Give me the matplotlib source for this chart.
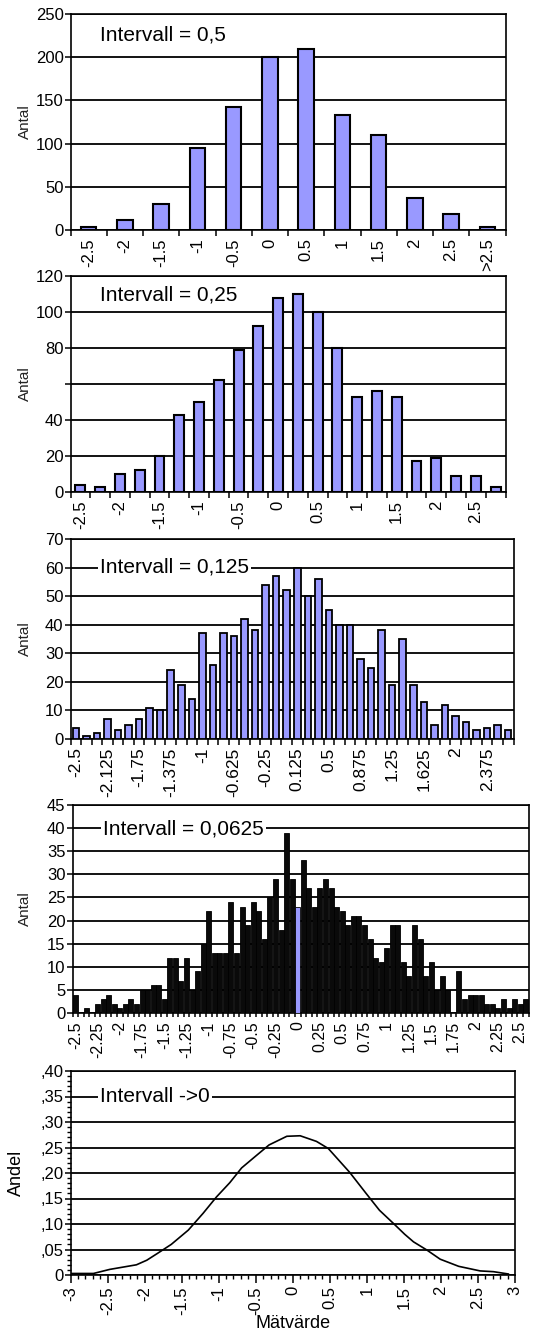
import numpy as np
import matplotlib
matplotlib.use('Agg')
import matplotlib.pyplot as plt
from matplotlib.ticker import FixedLocator, FixedFormatter, MultipleLocator

plt.rcParams['font.family'] = ['Liberation Sans', 'DejaVu Sans']

# ---------------- data ----------------
p1_labels = ['-2.5', '-2', '-1.5', '-1', '-0.5', '0', '0.5', '1', '1.5', '2', '2.5', '>2.5']
p1_counts = [3, 12, 30, 95, 142, 200, 210, 133, 110, 37, 18, 3]
p1_yticks = [0, 50, 100, 150, 200, 250]
p1_yticklabels = ['0', '50', '100', '150', '200', '250']

p2_labels = ['-2.5', '-2', '-1.5', '-1', '-0.5', '0', '0.5', '1', '1.5', '2', '2.5']  # every 2nd category
p2_counts = [4, 3, 10, 12, 20, 43, 50, 62, 79, 92, 108, 110, 100, 80, 53, 56, 53, 17, 19, 9, 9, 3]
p2_yticks = [0, 20, 40, 60, 80, 100, 120]
p2_yticklabels = ['0', '20', '40', '', '80', '100', '120']

p3_labels = ['-2.5', '-2.125', '-1.75', '-1.375', '-1', '-0.625', '-0.25', '0.125',
             '0.5', '0.875', '1.25', '1.625', '2', '2.375']  # every 3rd category
p3_counts = [4, 1, 2, 7, 3, 5, 7, 11, 10, 24, 19, 14, 37, 26, 37, 36, 42, 38, 54, 57,
             52, 60, 50, 56, 45, 40, 40, 28, 25, 38, 19, 35, 19, 13, 5, 12, 8, 6, 3, 4, 5, 3]
p3_yticks = [0, 10, 20, 30, 40, 50, 60, 70]

p4_labels = ['-2.5', '-2.25', '-2', '-1.75', '-1.5', '-1.25', '-1', '-0.75', '-0.5', '-0.25', '0',
             '0.25', '0.5', '0.75', '1', '1.25', '1.5', '1.75', '2', '2.25', '2.5']  # every 4th
p4_counts = [4, 0, 1, 0, 2, 3, 4, 2, 1, 2, 3, 2, 5, 5, 6, 6, 3, 12, 12, 7,
             12, 5, 9, 15, 22, 13, 13, 13, 24, 13, 23, 19, 24, 22, 16, 25, 29, 18, 39, 29,
             23, 33, 27, 23, 27, 29, 27, 23, 22, 19, 21, 21, 19, 16, 12, 11, 14, 19, 19, 11,
             8, 19, 16, 8, 11, 5, 8, 5, 0, 9, 3, 4, 4, 4, 2, 2, 1, 3, 1, 3,
             2, 3]
p4_zero_index = 40
p4_yticks = [0, 5, 10, 15, 20, 25, 30, 35, 40, 45]

p5_x = [-3.0, -2.69, -2.47, -2.11, -1.97, -1.83, -1.64, -1.41, -1.21, -1.03, -0.85, -0.69,
        -0.51, -0.32, -0.08, 0.10, 0.32, 0.48, 0.77, 0.99, 1.17, 1.36, 1.51, 1.63, 1.81,
        1.99, 2.24, 2.53, 2.71, 2.91]
p5_y = [0.003, 0.003, 0.011, 0.020, 0.029, 0.042, 0.060, 0.088, 0.121, 0.153, 0.181, 0.210,
        0.232, 0.255, 0.272, 0.273, 0.262, 0.248, 0.201, 0.160, 0.127, 0.101, 0.080, 0.065,
        0.049, 0.031, 0.017, 0.008, 0.0065, 0.002]
p5_yticks = [0, 0.05, 0.10, 0.15, 0.20, 0.25, 0.30, 0.35, 0.40]
p5_yticklabels = ['0', ',05', ',10', ',15', ',20', ',25', ',30', ',35', ',40']
p5_xticks = [-3, -2.5, -2, -1.5, -1, -0.5, 0, 0.5, 1, 1.5, 2, 2.5, 3]
p5_xticklabels = ['-3', '-2.5', '-2', '-1.5', '-1', '-0.5', '0', '0.5', '1', '1.5', '2', '2.5', '3']

titles = ['Intervall = 0,5', 'Intervall = 0,25', 'Intervall = 0,125',
          'Intervall = 0,0625', 'Intervall ->0']

# ---------------- layout ----------------
W, H = 536, 1338
fig = plt.figure(figsize=(W / 100, H / 100), dpi=100)
fig.patch.set_facecolor('white')


def add_ax(l, r, t, b):
    return fig.add_axes([l / W, 1 - b / H, (r - l) / W, (b - t) / H])


BLUE = '#9999FF'
TICK_FS = 12


def style(ax, lw=1.2):
    for s in ax.spines.values():
        s.set_linewidth(lw)
        s.set_color('black')
    ax.set_facecolor('white')
    ax.yaxis.grid(True, color='black', linewidth=1.3)
    ax.set_axisbelow(True)
    ax.tick_params(axis='y', direction='out', length=4, width=1.1, labelsize=TICK_FS, pad=1)


def cat_axis(ax, n, every, labels, fs):
    ax.set_xlim(-0.5, n - 0.5)
    ax.xaxis.set_minor_locator(FixedLocator(np.arange(n + 1) - 0.5))
    ax.xaxis.set_major_locator(FixedLocator(np.arange(0, n, every)[:len(labels)]))
    ax.xaxis.set_major_formatter(FixedFormatter(labels))
    ax.tick_params(axis='x', which='minor', direction='out', length=4, width=1.1)
    ax.tick_params(axis='x', which='major', length=0, pad=6, labelsize=fs, labelrotation=90)


def note(ax, xpx, ypx, l, r, t, b, text, box):
    fx = (xpx - l) / (r - l)
    fy = (b - ypx) / (b - t)
    kw = dict(transform=ax.transAxes, ha='left', va='center', fontsize=15, zorder=5)
    if box:
        kw['bbox'] = dict(facecolor='white', edgecolor='none', pad=1.5)
    ax.text(fx, fy, text, **kw)


def antal(ax, l, r):
    ax.set_ylabel('Antal', fontsize=11, color='#222222')
    ax.yaxis.set_label_coords(-(l - 32) / (r - l), 0.5)


# Panel 1
L1 = (70.5, 505.5, 14, 230)
ax1 = add_ax(*L1)
style(ax1)
x1 = np.arange(len(p1_counts))
ax1.bar(x1, p1_counts, width=0.43, color=BLUE, edgecolor='black', linewidth=1.5, zorder=3)
ax1.set_ylim(0, 250)
ax1.yaxis.set_major_locator(FixedLocator(p1_yticks))
ax1.yaxis.set_major_formatter(FixedFormatter(p1_yticklabels))
cat_axis(ax1, len(p1_counts), 1, p1_labels, TICK_FS)
antal(ax1, L1[0], L1[1])
note(ax1, 100, 35, *L1, titles[0], False)

# Panel 2
L2 = (70.5, 505.5, 276, 492)
ax2 = add_ax(*L2)
style(ax2)
x2 = np.arange(len(p2_counts))
ax2.bar(x2, p2_counts, width=0.5, color=BLUE, edgecolor='black', linewidth=1.5, zorder=3)
ax2.set_ylim(0, 120)
ax2.yaxis.set_major_locator(FixedLocator(p2_yticks))
ax2.yaxis.set_major_formatter(FixedFormatter(p2_yticklabels))
cat_axis(ax2, len(p2_counts), 2, p2_labels, TICK_FS)
antal(ax2, L2[0], L2[1])
note(ax2, 100, 295, *L2, titles[1], False)

# Panel 3
L3 = (70.5, 513.5, 539, 739)
ax3 = add_ax(*L3)
style(ax3)
x3 = np.arange(len(p3_counts))
ax3.bar(x3, p3_counts, width=0.62, color=BLUE, edgecolor='black', linewidth=1.3, zorder=3)
ax3.set_ylim(0, 70)
ax3.yaxis.set_major_locator(FixedLocator(p3_yticks))
cat_axis(ax3, len(p3_counts), 3, p3_labels, 12.5)
antal(ax3, L3[0], L3[1])
note(ax3, 100, 567, *L3, titles[2], True)

# Panel 4
L4 = (72.5, 528.5, 805, 1013)
ax4 = add_ax(*L4)
style(ax4)
x4 = np.arange(len(p4_counts))
colors4 = ['#0a0a0a'] * len(p4_counts)
colors4[p4_zero_index] = BLUE
ax4.bar(x4, p4_counts, width=0.9, color=colors4, edgecolor='black', linewidth=0.6, zorder=3)
ax4.set_ylim(0, 45)
ax4.yaxis.set_major_locator(FixedLocator(p4_yticks))
cat_axis(ax4, len(p4_counts), 4, p4_labels, 11.5)
ax4.tick_params(axis='x', which='minor', length=3)
antal(ax4, L4[0], L4[1])
note(ax4, 103, 829, *L4, titles[3], True)

# Panel 5
L5 = (70.5, 515, 1071, 1275)
ax5 = add_ax(*L5)
style(ax5)
ax5.plot(p5_x, p5_y, color='black', linewidth=1.2, zorder=3)
ax5.set_xlim(-3, 3)
ax5.set_ylim(0, 0.40)
ax5.yaxis.set_major_locator(FixedLocator(p5_yticks))
ax5.yaxis.set_major_formatter(FixedFormatter(p5_yticklabels))
ax5.yaxis.set_minor_locator(MultipleLocator(0.01))
ax5.xaxis.set_major_locator(FixedLocator(p5_xticks))
ax5.xaxis.set_major_formatter(FixedFormatter(p5_xticklabels))
ax5.xaxis.set_minor_locator(MultipleLocator(0.1))
ax5.tick_params(axis='y', which='minor', direction='out', length=3, width=1.0)
ax5.tick_params(axis='x', which='major', direction='out', length=6, width=1.1,
                labelsize=TICK_FS, labelrotation=90, pad=2)
ax5.tick_params(axis='x', which='minor', direction='out', length=3, width=1.0)
ax5.set_ylabel('Andel', fontsize=13)
ax5.yaxis.set_label_coords(-(70.5 - 25) / 444.5, 0.5)
ax5.set_xlabel('Mätvärde', fontsize=13, labelpad=0)
note(ax5, 100, 1096, *L5, titles[4], True)

fig.savefig('out.png', dpi=100, facecolor='white')
